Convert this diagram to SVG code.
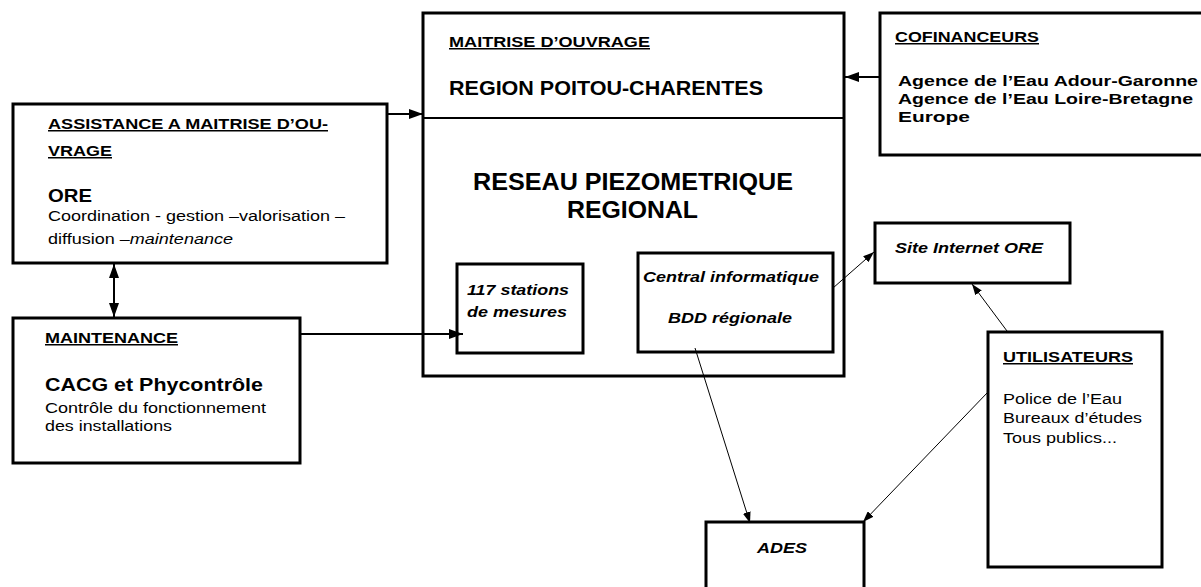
<svg xmlns="http://www.w3.org/2000/svg" width="1201" height="587" viewBox="0 0 1201 587">
<defs>
<style>
.box{fill:#fff;stroke:#000;stroke-width:3}
.t{font-family:"Liberation Sans",Arial,sans-serif;fill:#000}
.b{font-weight:bold}
.i{font-style:italic}
.u{text-decoration:underline}
.thick{stroke:#000;stroke-width:2;fill:none}
.thin{stroke:#000;stroke-width:1;fill:none}
</style>
<marker id="ahT" markerUnits="userSpaceOnUse" markerWidth="14" markerHeight="10" refX="14" refY="5" orient="auto-start-reverse"><path d="M0,0 L14,5 L0,10 z" fill="#000"/></marker>
<marker id="ahS" markerUnits="userSpaceOnUse" markerWidth="11" markerHeight="8" refX="11" refY="4" orient="auto-start-reverse"><path d="M0,0 L11,4 L0,8 z" fill="#000"/></marker>
</defs>
<rect width="1201" height="587" fill="#fff"/>

<g id="amo">
<rect class="box" x="13" y="104" width="374" height="159"/>
<text class="t b u" x="48" y="129" font-size="15" textLength="280" lengthAdjust="spacingAndGlyphs">ASSISTANCE A MAITRISE D’OU-</text>
<text class="t b u" x="48" y="156" font-size="15" textLength="64" lengthAdjust="spacingAndGlyphs">VRAGE</text>
<text class="t b" x="48" y="202" font-size="19" textLength="44" lengthAdjust="spacingAndGlyphs">ORE</text>
<text class="t" x="48" y="221" font-size="15.5" textLength="297" lengthAdjust="spacingAndGlyphs">Coordination - gestion –valorisation –</text>
<text class="t" x="48" y="244" font-size="15.5" textLength="185" lengthAdjust="spacingAndGlyphs">diffusion –<tspan class="i">maintenance</tspan></text>
</g>

<g id="maintenance">
<rect class="box" x="13" y="318" width="287" height="145"/>
<text class="t b u" x="45" y="343" font-size="15" textLength="133" lengthAdjust="spacingAndGlyphs">MAINTENANCE</text>
<text class="t b" x="45" y="391" font-size="19" textLength="218" lengthAdjust="spacingAndGlyphs">CACG et Phycontrôle</text>
<text class="t" x="45" y="413" font-size="15.5" textLength="221" lengthAdjust="spacingAndGlyphs">Contrôle du fonctionnement</text>
<text class="t" x="45" y="431" font-size="15.5" textLength="127" lengthAdjust="spacingAndGlyphs">des installations</text>
</g>

<g id="maitrise">
<rect class="box" x="423" y="13" width="421" height="363"/>
<line x1="423" y1="118" x2="844" y2="118" stroke="#000" stroke-width="2"/>
<text class="t b u" x="449" y="47" font-size="15" textLength="201" lengthAdjust="spacingAndGlyphs">MAITRISE D’OUVRAGE</text>
<text class="t b" x="449" y="95" font-size="20" textLength="314" lengthAdjust="spacingAndGlyphs">REGION POITOU-CHARENTES</text>
<text class="t b" x="473" y="190" font-size="23" textLength="320" lengthAdjust="spacingAndGlyphs">RESEAU PIEZOMETRIQUE</text>
<text class="t b" x="567" y="218" font-size="23" textLength="131" lengthAdjust="spacingAndGlyphs">REGIONAL</text>
</g>

<g id="stations">
<rect class="box" x="457" y="264" width="126" height="89"/>
<text class="t b i" x="467" y="295" font-size="15.5" textLength="102" lengthAdjust="spacingAndGlyphs">117 stations</text>
<text class="t b i" x="467" y="317" font-size="15.5" textLength="100" lengthAdjust="spacingAndGlyphs">de mesures</text>
</g>

<g id="central">
<rect class="box" x="638" y="253" width="195" height="99"/>
<text class="t b i" x="643" y="282" font-size="15.5" textLength="176" lengthAdjust="spacingAndGlyphs">Central informatique</text>
<text class="t b i" x="668" y="323" font-size="15.5" textLength="124" lengthAdjust="spacingAndGlyphs">BDD régionale</text>
</g>

<g id="cofinanceurs">
<rect class="box" x="880" y="13" width="330" height="142"/>
<text class="t b u" x="895" y="42" font-size="15" textLength="144" lengthAdjust="spacingAndGlyphs">COFINANCEURS</text>
<text class="t b" x="898" y="86" font-size="15.5" textLength="300" lengthAdjust="spacingAndGlyphs">Agence de l’Eau Adour-Garonne</text>
<text class="t b" x="898" y="104" font-size="15.5" textLength="295" lengthAdjust="spacingAndGlyphs">Agence de l’Eau Loire-Bretagne</text>
<text class="t b" x="898" y="122" font-size="15.5" textLength="72" lengthAdjust="spacingAndGlyphs">Europe</text>
</g>

<g id="site">
<rect class="box" x="875" y="223" width="195" height="60"/>
<text class="t b i" x="895" y="253" font-size="15.5" textLength="148" lengthAdjust="spacingAndGlyphs">Site Internet ORE</text>
</g>

<g id="utilisateurs">
<rect class="box" x="988" y="332" width="174" height="235"/>
<text class="t b u" x="1003" y="362" font-size="15" textLength="130" lengthAdjust="spacingAndGlyphs">UTILISATEURS</text>
<text class="t" x="1003" y="404" font-size="15.5" textLength="119" lengthAdjust="spacingAndGlyphs">Police de l’Eau</text>
<text class="t" x="1003" y="423" font-size="15.5" textLength="139" lengthAdjust="spacingAndGlyphs">Bureaux d’études</text>
<text class="t" x="1003" y="443" font-size="15.5" textLength="114" lengthAdjust="spacingAndGlyphs">Tous publics...</text>
</g>

<g id="ades">
<rect class="box" x="706" y="522" width="158" height="80"/>
<text class="t b i" x="757" y="553" font-size="15.5" textLength="50" lengthAdjust="spacingAndGlyphs">ADES</text>
</g>

<g id="connectors">
<line class="thick" x1="387" y1="114" x2="423" y2="114" marker-end="url(#ahT)"/>
<line class="thick" x1="880" y1="77" x2="845" y2="77" marker-end="url(#ahT)"/>
<line class="thick" x1="114" y1="264" x2="114" y2="317" marker-start="url(#ahT)" marker-end="url(#ahT)"/>
<line class="thick" x1="300" y1="334" x2="463" y2="334" marker-end="url(#ahT)"/>
<line class="thin" x1="833" y1="288" x2="874" y2="252" marker-end="url(#ahS)"/>
<line class="thin" x1="1007" y1="331" x2="972" y2="284" marker-end="url(#ahS)"/>
<line class="thin" x1="695" y1="348" x2="750" y2="523" marker-end="url(#ahS)"/>
<line class="thin" x1="988" y1="392" x2="863" y2="522" marker-end="url(#ahS)"/>
</g>
</svg>
